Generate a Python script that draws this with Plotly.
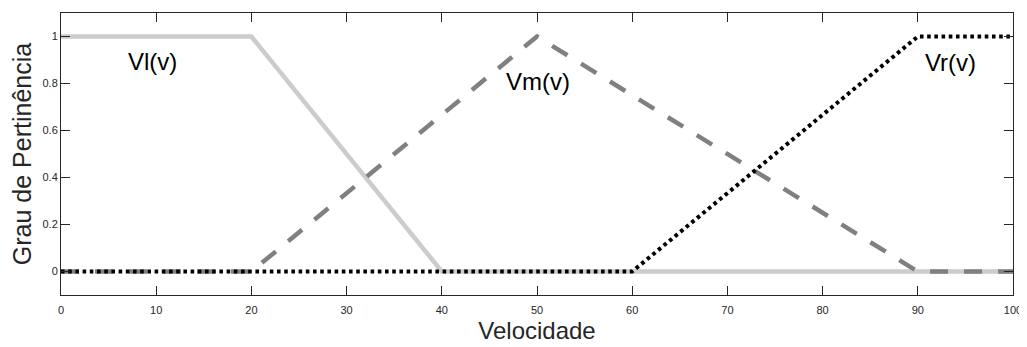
import plotly.graph_objects as go

vl_x = [0, 20, 40, 100]
vl_y = [1, 1, 0, 0]
vm_x = [0, 20, 50, 90, 100]
vm_y = [0, 0, 1, 0, 0]
vr_x = [0, 60, 90, 100]
vr_y = [0, 0, 1, 1]

labels = ["Vl(v)", "Vm(v)", "Vr(v)"]
label_x = [9.66, 50.1, 93.4]
label_y = [0.894, 0.809, 0.89]

x_ticks = list(range(0, 101, 10))
y_ticks = [0, 0.2, 0.4, 0.6, 0.8, 1]
y_ticktext = ["0", "0.2", "0.4", "0.6", "0.8", "1"]

FONT = "Liberation Sans"

fig = go.Figure()
fig.add_trace(go.Scatter(x=vl_x, y=vl_y, mode="lines",
                         line=dict(color="#cccccc", width=4.5), showlegend=False))
fig.add_trace(go.Scatter(x=vm_x, y=vm_y, mode="lines",
                         line=dict(color="#808080", width=4.5, dash="18px,16px"), showlegend=False))
fig.add_trace(go.Scatter(x=vr_x, y=vr_y, mode="lines",
                         line=dict(color="#000000", width=4, dash="3.6px,3.6px"), showlegend=False))

for t, x, y in zip(labels, label_x, label_y):
    fig.add_annotation(x=x, y=y, text=t, showarrow=False,
                       font=dict(family=FONT, size=24, color="#000000"))

axis_common = dict(showline=True, linecolor="#262626", linewidth=1, mirror="ticks",
                   ticks="inside", ticklen=9, tickcolor="#262626", showgrid=False,
                   zeroline=False, automargin=False,
                   tickfont=dict(family=FONT, size=11, color="#262626"))

fig.update_xaxes(range=[0, 100], tickvals=x_ticks, ticklabelstandoff=5,
                 title=dict(text="Velocidade", font=dict(family=FONT, size=24, color="#262626"), standoff=6),
                 **axis_common)
fig.update_yaxes(range=[-0.1, 1.1], tickvals=y_ticks, ticktext=y_ticktext,
                 title=dict(text="Grau de Pertinência", font=dict(family=FONT, size=25, color="#262626"), standoff=4),
                 **axis_common)

# page body has an 8px default margin, so the figure is sized to fit the 1027x347 window
fig.update_layout(width=1019, height=339, margin=dict(l=53, r=14, t=5, b=52),
                  plot_bgcolor="white", paper_bgcolor="white")

fig.write_html("out.html")
